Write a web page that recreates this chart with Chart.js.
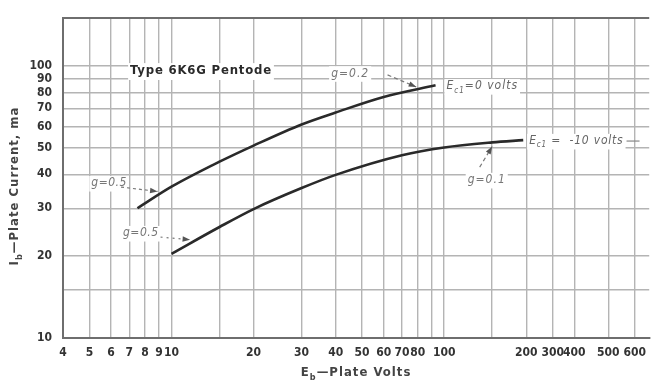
<!DOCTYPE html>
<html>
<head>
<meta charset="utf-8">
<script src="https://cdn.jsdelivr.net/npm/chart.js@4.4.1/dist/chart.umd.min.js"></script>
<style>
  body { margin: 0; background: #fff; }
  #wrap { width: 654px; height: 381px; }
</style>
</head>
<body>
<div id="wrap"><canvas id="plateChart" width="654" height="381"></canvas></div>
<script>
// grid lines and the labels printed under / beside them
const xGridValues = [4, 5, 6, 7, 8, 9, 10, 15, 20, 30, 40, 50, 60, 70, 80, 90, 100, 150, 200, 250, 300, 400, 500];
const xTickLabels = ['4', '5', '6', '7', '8', '9', '10', '', '20', '30', '40', '50', '60', '70', '80', '', '100', '', '200', '300', '400', '500', '600'];
const yGridValues = [10, 15, 20, 30, 40, 50, 60, 70, 80, 90, 100, 150];
const yTickLabels = ['10', '', '20', '30', '40', '50', '60', '70', '80', '90', '100', ''];

// Ec1 = 0 volts
const ec0Volts = [7.5, 10, 15, 20, 30, 40, 60, 93];
const ec0Current = [30, 36, 44.5, 51, 61, 67.5, 77, 85];
// Ec1 = -10 volts
const ec10Volts = [10, 15, 20, 30, 40, 70, 100, 150, 195];
const ec10Current = [20.4, 25.6, 29.8, 35.6, 39.8, 47, 50.2, 52.4, 53.4];

const tickFont = '"DejaVu Sans Condensed", "Liberation Sans Narrow", "DejaVu Sans", sans-serif';
const noteFont = '"DejaVu Sans Condensed", "Liberation Sans Narrow", "DejaVu Sans", sans-serif';
const gridColor = '#b4b4b4';
const frameColor = '#6e6e6e';

function toPoints(xs, ys) {
    return xs.map((x, i) => ({ x: x, y: ys[i] }));
}

// draws text made of parts, some of them as subscripts
function drawRich(ctx, parts, x, y, size, style) {
    let cx = x;
    parts.forEach(p => {
        const s = p.sub ? Math.round(size * 0.7) : size;
        ctx.font = style + ' ' + s + 'px ' + noteFont;
        ctx.fillText(p.t, cx, y + (p.sub ? size * 0.35 : 0));
        cx += ctx.measureText(p.t).width;
    });
    return cx;
}

function drawArrow(ctx, x1, y1, x2, y2, dash) {
    ctx.save();
    ctx.strokeStyle = '#7a7a7a';
    ctx.fillStyle = '#555';
    ctx.lineWidth = 1.2;
    ctx.setLineDash(dash);
    ctx.beginPath();
    ctx.moveTo(x1, y1);
    ctx.lineTo(x2, y2);
    ctx.stroke();
    ctx.setLineDash([]);
    const a = Math.atan2(y2 - y1, x2 - x1);
    ctx.beginPath();
    ctx.moveTo(x2, y2);
    ctx.lineTo(x2 - 8 * Math.cos(a - 0.35), y2 - 8 * Math.sin(a - 0.35));
    ctx.lineTo(x2 - 8 * Math.cos(a + 0.35), y2 - 8 * Math.sin(a + 0.35));
    ctx.closePath();
    ctx.fill();
    ctx.restore();
}

const notesPlugin = {
    id: 'notes',
    afterDraw(chart) {
        const ctx = chart.ctx;
        const xs = chart.scales.x, ys = chart.scales.y;
        const px = v => xs.getPixelForValue(v);
        const py = v => ys.getPixelForValue(v);
        const area = chart.chartArea;

        ctx.save();
        ctx.textBaseline = 'middle';
        ctx.textAlign = 'left';

        // label boxes cover the grid behind them
        function note(parts, x, y, size, style, color, spacing) {
            ctx.letterSpacing = spacing;
            let w = 0;
            parts.forEach(p => {
                ctx.font = style + ' ' + (p.sub ? Math.round(size * 0.7) : size) + 'px ' + noteFont;
                w += ctx.measureText(p.t).width;
            });
            ctx.fillStyle = '#fff';
            ctx.fillRect(px(x) - 2, py(y) - size * 0.6, w + 4, size * 1.3);
            ctx.fillStyle = color;
            const end = drawRich(ctx, parts, px(x), py(y), size, style);
            ctx.letterSpacing = '0px';
            return end;
        }

        note([{ t: 'Type 6K6G Pentode' }], 7.05, 96, 13, 'bold', '#2b2b2b', '0.8px');

        note([{ t: 'g=0.2' }], 38.5, 94, 12, 'italic', '#777', '1px');
        drawArrow(ctx, px(62), py(92.8), px(79), py(83.8), [4, 3]);

        note([{ t: 'E' }, { t: 'c1', sub: true }, { t: '=0 volts' }], 102, 84.3, 12, 'italic', '#666', '1px');

        const end10 = note([{ t: 'E' }, { t: 'c1', sub: true }, { t: ' =  -10 volts' }], 205, 53, 12, 'italic', '#666', '0.8px');
        ctx.strokeStyle = '#888';
        ctx.lineWidth = 1.2;
        ctx.beginPath();
        ctx.moveTo(end10 + 3, py(53));
        ctx.lineTo(Math.min(end10 + 16, area.right), py(53));
        ctx.stroke();

        note([{ t: 'g=0.1' }], 122, 38.1, 12, 'italic', '#777', '1px');
        drawArrow(ctx, px(135), py(42.5), px(150), py(50.6), [4, 3]);

        note([{ t: 'g=0.5' }], 5.08, 37.1, 12, 'italic', '#777', '0.5px');
        drawArrow(ctx, px(6.53), py(35.9), px(8.89), py(34.6), [3, 3]);

        note([{ t: 'g=0.5' }], 6.64, 24.3, 12, 'italic', '#777', '0.5px');
        drawArrow(ctx, px(9.12), py(23.5), px(11.7), py(23.0), [2, 4]);

        // axis titles with subscripts
        ctx.fillStyle = '#444';
        ctx.letterSpacing = '1px';
        const xParts = [{ t: 'E' }, { t: 'b', sub: true }, { t: '\u2014Plate Volts' }];
        let xw = 0;
        xParts.forEach(p => { ctx.font = 'bold ' + (p.sub ? 9 : 13) + 'px ' + noteFont; xw += ctx.measureText(p.t).width; });
        drawRich(ctx, xParts, (area.left + area.right) / 2 - xw / 2, 373, 13, 'bold');

        const yParts = [{ t: 'I' }, { t: 'b', sub: true }, { t: '\u2014Plate Current, ma' }];
        let yw = 0;
        yParts.forEach(p => { ctx.font = 'bold ' + (p.sub ? 9 : 13) + 'px ' + noteFont; yw += ctx.measureText(p.t).width; });
        ctx.translate(15, 186);
        ctx.rotate(-Math.PI / 2);
        drawRich(ctx, yParts, -yw / 2, 0, 13, 'bold');
        ctx.restore();
    }
};

const lineStyle = {
    borderColor: '#2a2a2a',
    borderWidth: 2.6,
    pointRadius: 0,
    fill: false,
    cubicInterpolationMode: 'monotone'
};

const chart = new Chart(document.getElementById('plateChart').getContext('2d'), {
    type: 'line',
    data: {
        datasets: [
            Object.assign({ label: 'Ec1 = 0 volts', data: toPoints(ec0Volts, ec0Current) }, lineStyle),
            Object.assign({ label: 'Ec1 = -10 volts', data: toPoints(ec10Volts, ec10Current) }, lineStyle)
        ]
    },
    options: {
        responsive: false,
        animation: false,
        layout: { padding: { top: 18, left: 0, right: 0, bottom: 0 } },
        plugins: {
            legend: { display: false },
            tooltip: { enabled: false }
        },
        scales: {
            x: {
                type: 'logarithmic',
                min: 4,
                max: 565,
                afterBuildTicks: s => { s.ticks = xGridValues.map(v => ({ value: v })); },
                afterFit: s => { s.height = 43; },
                ticks: {
                    autoSkip: false,
                    maxRotation: 0,
                    padding: 8,
                    color: '#333',
                    font: { family: tickFont, size: 12, weight: 'bold' },
                    callback: (v, i) => xTickLabels[i]
                },
                grid: { color: gridColor, lineWidth: 1.4, drawTicks: false },
                border: { color: frameColor, width: 2 }
            },
            y: {
                type: 'logarithmic',
                min: 10,
                max: 150,
                afterBuildTicks: s => { s.ticks = yGridValues.map(v => ({ value: v })); },
                afterFit: s => { s.width = 63; },
                ticks: {
                    autoSkip: false,
                    padding: 11,
                    color: '#333',
                    font: { family: tickFont, size: 12, weight: 'bold' },
                    callback: (v, i) => yTickLabels[i]
                },
                grid: {
                    color: c => (c.tick && c.tick.value === 150 ? frameColor : gridColor),
                    lineWidth: c => (c.tick && c.tick.value === 150 ? 2 : 1.4),
                    drawTicks: false
                },
                border: { color: frameColor, width: 2 }
            }
        }
    },
    plugins: [notesPlugin]
});
</script>
</body>
</html>
